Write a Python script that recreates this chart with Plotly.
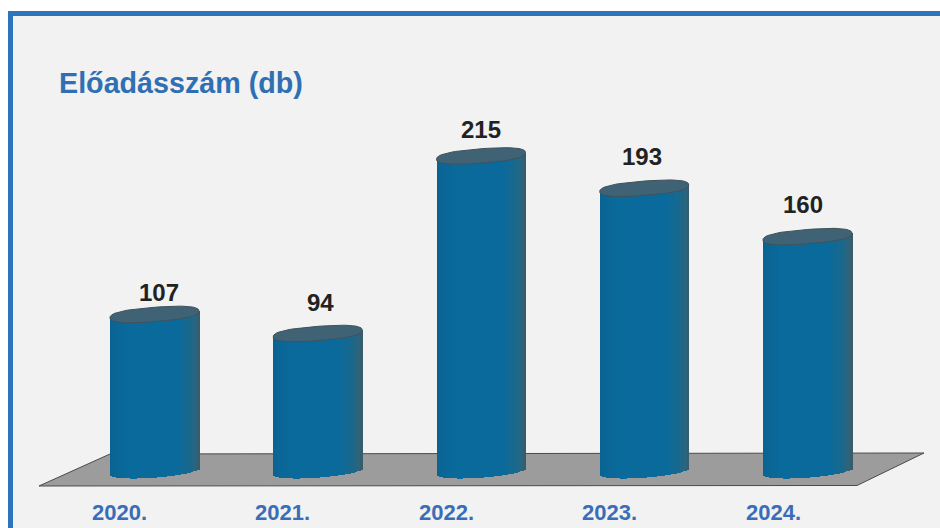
import math
import plotly.graph_objects as go

# ---- data ----
YEARS = ["2020.", "2021.", "2022.", "2023.", "2024."]
VALUES = [107, 94, 215, 193, 160]
TITLE = "Előadásszám (db)"
LABEL_LIFT = [21.5, 31, 26, 32, 32.5]   # height of each value label above its cap, px

# ---- canvas / scale (pixels of the 940x528 picture) ----
W, H = 940, 528
X0, DX = 154.5, 163.25      # pixel of category 0, pixels per category
Y0, K = 471.5, 1.4676       # pixel of value 0, pixels per unit
HALF = 44.5                 # cylinder half width, px
B, S = 6.2, 3.3             # base ellipse half height and slant, px
B_TOP = 7.2                 # cap ellipse half height, px
N = 44

BG = "#f1f2f1"
BLUE = "#2e74bd"
STOPS = [(-1.0, (10, 100, 146)), (-0.6, (10, 106, 156)), (0.5, (11, 106, 156)),
         (0.78, (26, 104, 140)), (0.93, (44, 100, 124)), (1.0, (58, 90, 104))]


def shade(u):
    for (a, ca), (b, cb) in zip(STOPS, STOPS[1:]):
        if u <= b:
            t = (u - a) / (b - a)
            return "rgb(%d,%d,%d)" % tuple(round(p + (q - p) * t) for p, q in zip(ca, cb))
    return "rgb(%d,%d,%d)" % STOPS[-1][1]


def rnd(c, e):
    return math.copysign(abs(c) ** e, c)


fig = go.Figure()

# cylinder bodies: vertical strips running from the lower rim of the base up to the value
idx = list(range(len(VALUES)))
sw = 2 * HALF / DX / N
for j in range(N):
    u = -1 + (2 * j + 1) / N
    off = -HALF / DX + j * sw
    base = [-(B * math.sqrt(1 - u * u) - S * u) / K for _ in idx]
    tops = [v + S * u / K for v in VALUES]
    fig.add_trace(go.Bar(
        x=idx, y=[t - b for t, b in zip(tops, base)], base=base,
        width=sw * 1.25, offset=off,
        marker=dict(color=shade(u), line=dict(width=0)),
        showlegend=False, hoverinfo="skip",
    ))

# top caps
for i, v in zip(idx, VALUES):
    xs, ys = [], []
    for d in range(0, 361, 5):
        t = math.radians(d)
        c, s_ = rnd(math.cos(t), 0.8), rnd(math.sin(t), 0.8)
        xs.append(i + HALF * c / DX)
        ys.append(v + (B_TOP * s_ + S * c) / K)
    fig.add_trace(go.Scatter(
        x=xs, y=ys, mode="lines", fill="toself", fillcolor="#3f6274",
        line=dict(color="#3f525c", width=1),
        showlegend=False, hoverinfo="skip",
    ))

annotations = [dict(
    x=56.5 / W, y=1 - 82.5 / H, xref="paper", yref="paper", xanchor="left", yanchor="middle",
    text=TITLE, showarrow=False,
    font=dict(family="Liberation Sans", size=28.7, color="#2f6fb4", weight="bold"),
)]
for i, (lab, v, lift) in enumerate(zip(YEARS, VALUES, LABEL_LIFT)):
    annotations.append(dict(
        x=i, y=v, xref="x", yref="y", text=str(v), showarrow=False,
        xshift=4.5 - 2.25 * i, yshift=lift, yanchor="middle",
        font=dict(family="Liberation Sans", size=24, color="#222222", weight="bold"),
    ))
    annotations.append(dict(
        x=i, y=1 - 512.5 / H, xref="x", yref="paper", text=lab, showarrow=False,
        xshift=-35.5 + 0.25 * i, yanchor="middle",
        font=dict(family="Liberation Sans", size=22, color="#3a6db8", weight="bold"),
    ))


def pp(x, y):
    return f"{x / W:.5f} {1 - y / H:.5f}"


floor = "M " + " L ".join(pp(*p) for p in [(39, 486), (110, 454), (924, 453), (857, 485.5)]) + " Z"
shapes = [
    dict(type="rect", xref="paper", yref="paper", layer="below",
         x0=10.5 / W, x1=1.05, y0=-0.05, y1=1 - 13.5 / H,
         fillcolor=BG, line=dict(color=BLUE, width=5)),
    dict(type="path", xref="paper", yref="paper", layer="below", path=floor,
         fillcolor="#9c9c9c", line=dict(color="#4a4a4a", width=1)),
]

fig.update_layout(
    width=W, height=H, margin=dict(l=0, r=0, t=0, b=0), autosize=False,
    paper_bgcolor="white", plot_bgcolor="rgba(0,0,0,0)",
    barmode="overlay", showlegend=False, bargap=0,
    xaxis=dict(range=[(0 - X0) / DX, (W - X0) / DX], visible=False, fixedrange=True),
    yaxis=dict(range=[(Y0 - H) / K, Y0 / K], visible=False, fixedrange=True),
    shapes=shapes, annotations=annotations,
)

fig.write_html("out.html", config={"displayModeBar": False},
               post_script="document.body.style.margin='0';")
